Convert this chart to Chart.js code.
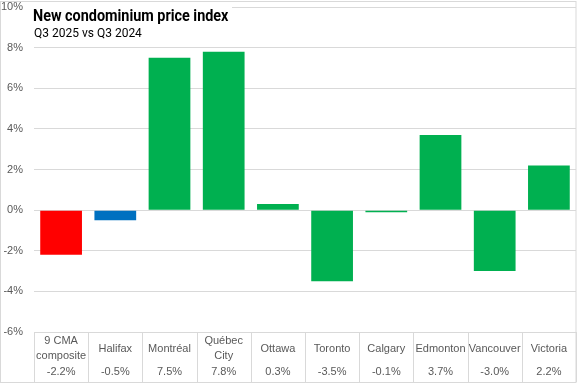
<!DOCTYPE html>
<html><head><meta charset="utf-8">
<script src="https://cdn.jsdelivr.net/npm/chart.js@4/dist/chart.umd.min.js"></script>
<style>html,body{margin:0;padding:0;background:#fff}#wrap{width:577px;height:385px;position:relative}</style>
</head><body><div id="wrap"><canvas id="c" width="577" height="385"></canvas></div>
<script>
// ---- data ----
const categories = ["9 CMA composite","Halifax","Montréal","Québec City","Ottawa","Toronto","Calgary","Edmonton","Vancouver","Victoria"];
const categoryLines = [["9 CMA","composite"],["Halifax"],["Montréal"],["Québec","City"],["Ottawa"],["Toronto"],["Calgary"],["Edmonton"],["Vancouver"],["Victoria"]];
const values = [-2.2,-0.5,7.5,7.8,0.3,-3.5,-0.1,3.7,-3.0,2.2];
const valueLabels = ["-2.2%","-0.5%","7.5%","7.8%","0.3%","-3.5%","-0.1%","3.7%","-3.0%","2.2%"];
const barColors = ["#FF0000","#0070C0","#00B050","#00B050","#00B050","#00B050","#00B050","#00B050","#00B050","#00B050"];
const yMin = -6, yMax = 10, yStep = 2;
const titleText = "New condominium price index";
const subtitleText = "Q3 2025 vs Q3 2024";

const GRID = "#D9D9D9";
const TEXT = "#595959";
const FONT = "'Liberation Sans', Arial, sans-serif";

const overlay = {
  id: 'overlay',
  afterDraw(chart) {
    const ctx = chart.ctx;
    const xs = chart.scales.x, ca = chart.chartArea;
    ctx.save();
    // title box
    ctx.fillStyle = "#fff";
    ctx.fillRect(30, 2, 202, 40);
    ctx.fillStyle = "#000";
    ctx.textBaseline = "alphabetic";
    ctx.textAlign = "left";
    ctx.font = "bold 16px 'Roboto', " + FONT;
    ctx.save();
    ctx.translate(33, 21);
    ctx.scale(0.9, 1);
    ctx.fillText(titleText, 0, 0);
    ctx.restore();
    ctx.font = "12px 'Roboto', " + FONT;
    ctx.fillStyle = "#000";
    ctx.fillText(subtitleText, 34, 37);

    // data table
    const top = ca.bottom, bottom = 382;
    const n = categories.length;
    const half = (xs.getPixelForValue(1) - xs.getPixelForValue(0)) / 2;
    ctx.strokeStyle = GRID;
    ctx.lineWidth = 1;
    ctx.beginPath();
    for (let i = 0; i <= n; i++) {
      const x = Math.round((i < n ? xs.getPixelForValue(i) - half : xs.getPixelForValue(n - 1) + half)) + 0.5;
      ctx.moveTo(x, top); ctx.lineTo(x, bottom);
    }
    ctx.moveTo(ca.left, bottom + 0.5); ctx.lineTo(ca.right, bottom + 0.5);
    ctx.stroke();
    ctx.fillStyle = TEXT;
    ctx.font = "11px " + FONT;
    ctx.textAlign = "center";
    ctx.textBaseline = "middle";
    for (let i = 0; i < n; i++) {
      const x = xs.getPixelForValue(i);
      const lines = categoryLines[i];
      if (lines.length === 2) {
        ctx.fillText(lines[0], x, 341);
        ctx.fillText(lines[1], x, 356);
      } else {
        ctx.fillText(lines[0], x, 348.5);
      }
      ctx.fillText(valueLabels[i], x, 371.5);
    }
    // outer border
    ctx.strokeStyle = GRID;
    ctx.strokeRect(0.5, 1.5, 575.5, 381);
    ctx.restore();
  }
};

new Chart(document.getElementById('c'), {
  type: 'bar',
  data: {
    labels: categories,
    datasets: [{ data: values, backgroundColor: barColors, borderWidth: 0,
      barPercentage: 0.77, categoryPercentage: 1 }]
  },
  options: {
    responsive: false,
    devicePixelRatio: 1,
    animation: false,
    layout: { padding: { top: 7, bottom: 53, left: 0, right: 1 } },
    plugins: { legend: { display: false }, tooltip: { enabled: false }, title: { display: false } },
    scales: {
      x: { display: false },
      y: {
        min: yMin, max: yMax,
        afterFit(s) { s.width = 34; s.paddingTop = 0; s.paddingBottom = 0; },
        border: { display: false },
        grid: { color: GRID, drawTicks: false, lineWidth: 1 },
        ticks: { stepSize: yStep, padding: 11, color: TEXT, font: { family: FONT, size: 11 },
          callback: v => v + '%' }
      }
    }
  },
  plugins: [overlay]
});
</script>
</body></html>
